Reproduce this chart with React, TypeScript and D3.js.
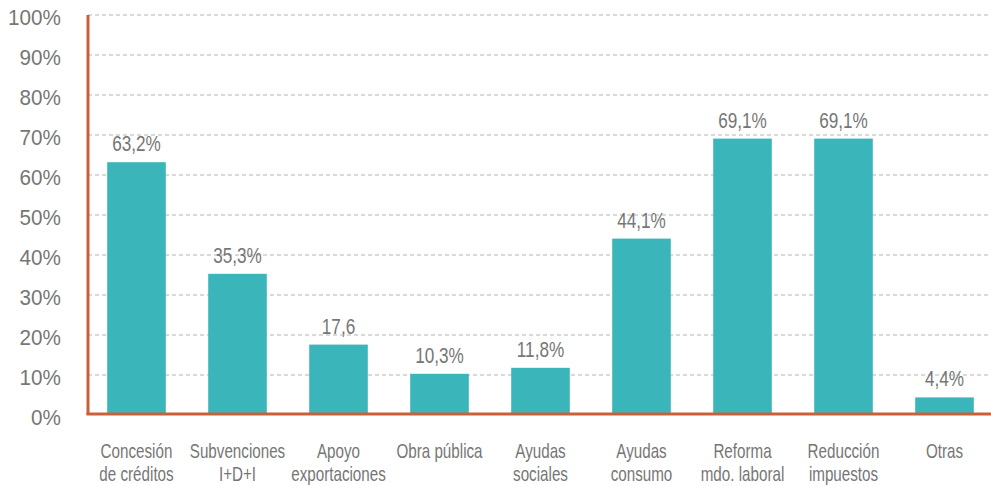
import React, { useRef, useEffect } from 'react';
import * as d3 from 'd3';

const categories = [
  ['Concesión', 'de créditos'],
  ['Subvenciones', 'I+D+I'],
  ['Apoyo', 'exportaciones'],
  ['Obra pública'],
  ['Ayudas', 'sociales'],
  ['Ayudas', 'consumo'],
  ['Reforma', 'mdo. laboral'],
  ['Reducción', 'impuestos'],
  ['Otras'],
];
const values = [63.2, 35.3, 17.6, 10.3, 11.8, 44.1, 69.1, 69.1, 4.4];
const valueLabels = ['63,2%', '35,3%', '17,6', '10,3%', '11,8%', '44,1%', '69,1%', '69,1%', '4,4%'];
const yTicks = [0, 10, 20, 30, 40, 50, 60, 70, 80, 90, 100];

const W = 991;
const H = 486;
const FONT = '"Liberation Sans", Arial, sans-serif';
const TEXT = '#767676';
const BAR = '#3ab5b9';
const AXIS = '#c9603b';

const BarChart = () => {
  const svgRef = useRef();

  useEffect(() => {
    const svg = d3.select(svgRef.current);
    svg.selectAll('*').remove();

    const left = 88, right = 991, top = 15, bottom = 415;
    const idx = categories.map((_, i) => i);

    const x = d3.scaleBand().domain(idx).range([86, 995]).paddingInner(0.42).paddingOuter(0.21);
    const y = d3.scaleLinear().domain([0, 100]).range([bottom, top]);
    const cx = i => x(i) + x.bandwidth() / 2;

    // gridlines
    svg.append('g')
      .selectAll('line')
      .data(yTicks.filter(t => t > 0))
      .join('line')
      .attr('x1', left).attr('x2', right)
      .attr('y1', d => y(d)).attr('y2', d => y(d))
      .attr('stroke', '#b3b3b3')
      .attr('stroke-width', 1)
      .attr('stroke-dasharray', '4,3');

    // y tick labels (condensed look via horizontal scale)
    svg.append('g')
      .selectAll('text')
      .data(yTicks)
      .join('text')
      .attr('transform', d => `translate(61,${y(d) + 3}) scale(0.94,1)`)
      .attr('dominant-baseline', 'central')
      .attr('text-anchor', 'end')
      .attr('font-family', FONT)
      .attr('font-size', 22)
      .attr('fill', TEXT)
      .text(d => `${d}%`);

    // bars
    svg.append('g')
      .selectAll('rect')
      .data(values)
      .join('rect')
      .attr('x', (d, i) => x(i))
      .attr('width', x.bandwidth())
      .attr('y', d => y(d))
      .attr('height', d => bottom - y(d))
      .attr('fill', BAR);

    // value labels
    svg.append('g')
      .selectAll('text')
      .data(values)
      .join('text')
      .attr('transform', (d, i) => `translate(${cx(i)},${y(d) - 11}) scale(0.78,1)`)
      .attr('text-anchor', 'middle')
      .attr('font-family', FONT)
      .attr('font-size', 22)
      .attr('fill', TEXT)
      .text((d, i) => valueLabels[i]);

    // axes lines
    svg.append('line')
      .attr('x1', left).attr('x2', left)
      .attr('y1', top).attr('y2', bottom)
      .attr('stroke', AXIS).attr('stroke-width', 3);
    svg.append('line')
      .attr('x1', left - 1.5).attr('x2', right)
      .attr('y1', bottom - 1).attr('y2', bottom - 1)
      .attr('stroke', AXIS).attr('stroke-width', 3);

    // category labels
    const cat = svg.append('g')
      .selectAll('text')
      .data(categories)
      .join('text')
      .attr('transform', (d, i) => `translate(${cx(i)},458) scale(0.76,1)`)
      .attr('text-anchor', 'middle')
      .attr('font-family', FONT)
      .attr('font-size', 20)
      .attr('fill', TEXT);
    cat.selectAll('tspan')
      .data(d => d)
      .join('tspan')
      .attr('x', 0)
      .attr('dy', (d, i) => (i === 0 ? 0 : 23))
      .text(d => d);
  }, []);

  return (
    <svg ref={svgRef} width={W} height={H}
      style={{ position: 'absolute', left: 0, top: 0, background: '#fff' }} />
  );
};

export default function App() {
  return <BarChart />;
}
